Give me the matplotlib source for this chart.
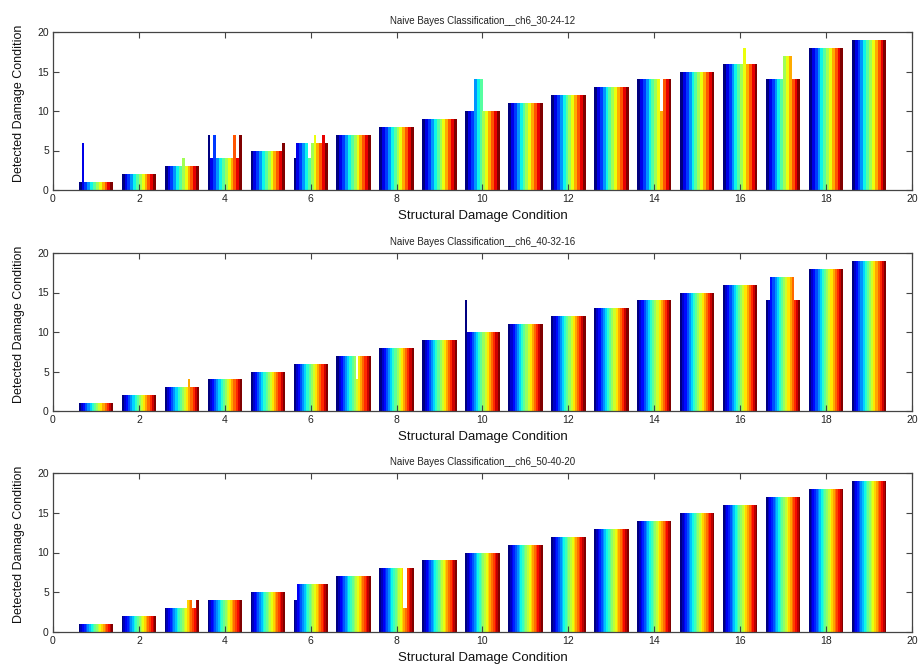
import numpy as np
import matplotlib
matplotlib.use('Agg')
import matplotlib.pyplot as plt

# --- Detected condition per structural condition (rows) and test sample (columns) ---
# ch6_30-24-12 : 12 test samples per condition
detected_30_24_12 = [
    [1, 6] + [1] * 10,
    [2] * 12,
    [3] * 6 + [4] + [3] * 5,
    [7, 4, 7] + [4] * 6 + [7, 4, 7],
    [5] * 11 + [6],
    [4, 6, 6, 6, 6, 4, 6, 7, 6, 6, 7, 6],
    [7] * 12,
    [8] * 12,
    [9] * 12,
    [10] * 3 + [14] * 3 + [10] * 6,
    [11] * 12,
    [12] * 12,
    [13] * 12,
    [14] * 8 + [10] + [14] * 3,
    [15] * 12,
    [16] * 7 + [18] + [16] * 4,
    [14] * 6 + [17] * 3 + [14] * 3,
    [18] * 12,
    [19] * 12,
]

# ch6_40-32-16 : 16 test samples per condition
detected_40_32_16 = [
    [1] * 16,
    [2] * 16,
    [3] * 11 + [4] + [3] * 4,
    [4] * 16,
    [5] * 16,
    [6] * 16,
    [7] * 9 + [4] + [7] * 6,
    [8] * 16,
    [9] * 16,
    [14] + [10] * 15,
    [11] * 16,
    [12] * 16,
    [13] * 16,
    [14] * 16,
    [15] * 16,
    [16] * 16,
    [14] * 2 + [17] * 11 + [14] * 3,
    [18] * 16,
    [19] * 16,
]

# ch6_50-40-20 : 20 test samples per condition
detected_50_40_20 = [
    [1] * 20,
    [2] * 20,
    [3] * 13 + [4] * 3 + [3] * 2 + [4] * 2,
    [4] * 20,
    [5] * 20,
    [4] * 2 + [6] * 18,
    [7] * 20,
    [8] * 14 + [3] * 2 + [8] * 4,
    [9] * 20,
    [10] * 20,
    [11] * 20,
    [12] * 20,
    [13] * 20,
    [14] * 20,
    [15] * 20,
    [16] * 20,
    [17] * 20,
    [18] * 20,
    [19] * 20,
]

conditions = list(range(1, 20))
titles = [
    'Naive Bayes Classification__ch6_30-24-12',
    'Naive Bayes Classification__ch6_40-32-16',
    'Naive Bayes Classification__ch6_50-40-20',
]
x_ticks = list(range(0, 21, 2))
y_ticks = list(range(0, 21, 5))

# --- Layout ---
FIG_W, FIG_H, DPI = 920, 668, 100
AX_LEFT, AX_RIGHT = 53, 912
AX_ROWS = [(32, 190), (253, 411), (473, 632)]   # top / bottom in pixels
GROUP_WIDTH = 0.8
LABEL_FONT = ['Liberation Sans Narrow', 'Arial Narrow', 'Liberation Sans', 'DejaVu Sans']
SMALL_FONT = ['Liberation Sans', 'DejaVu Sans']
AXIS_GREY = '#444444'


def draw_panel(ax, data, title):
    n = len(data[0])
    colors = plt.cm.jet(np.linspace(0, 1, n))
    bar_w = GROUP_WIDTH / n
    vals = np.array(data, dtype=float)
    for j in range(n):
        xs = np.array(conditions) - GROUP_WIDTH / 2 + (j + 0.5) * bar_w
        ax.bar(xs, vals[:, j], width=bar_w, color=colors[j],
               linewidth=0, align='center')

    ax.set_xlim(0, 20)
    ax.set_ylim(0, 20)
    ax.set_xticks(x_ticks)
    ax.set_yticks(y_ticks)
    ax.tick_params(direction='in', top=True, right=True, length=4,
                   width=0.8, color=AXIS_GREY, labelsize=7.5,
                   labelcolor='#222222', pad=3)
    for lbl in ax.get_xticklabels() + ax.get_yticklabels():
        lbl.set_family(SMALL_FONT)
    for sp in ax.spines.values():
        sp.set_color(AXIS_GREY)
        sp.set_linewidth(0.9)

    ax.set_title(title, fontsize=7, family=SMALL_FONT, color='#222222', pad=6)
    ax.set_xlabel('Structural Damage Condition', fontsize=9.5,
                  family=LABEL_FONT, color='#111111')
    ax.set_ylabel('Detected Damage Condition', fontsize=9,
                  family=LABEL_FONT, color='#111111')
    ax.xaxis.set_label_coords(0.5, -0.125)
    ax.yaxis.set_label_coords(-0.033, 0.55)


fig = plt.figure(figsize=(FIG_W / DPI, FIG_H / DPI), dpi=DPI)
fig.patch.set_facecolor('white')

panels = [detected_30_24_12, detected_40_32_16, detected_50_40_20]
for (top, bottom), data, title in zip(AX_ROWS, panels, titles):
    rect = [AX_LEFT / FIG_W, 1 - bottom / FIG_H,
            (AX_RIGHT - AX_LEFT) / FIG_W, (bottom - top) / FIG_H]
    ax = fig.add_axes(rect)
    draw_panel(ax, data, title)

fig.savefig('out.png', dpi=DPI, facecolor='white')
